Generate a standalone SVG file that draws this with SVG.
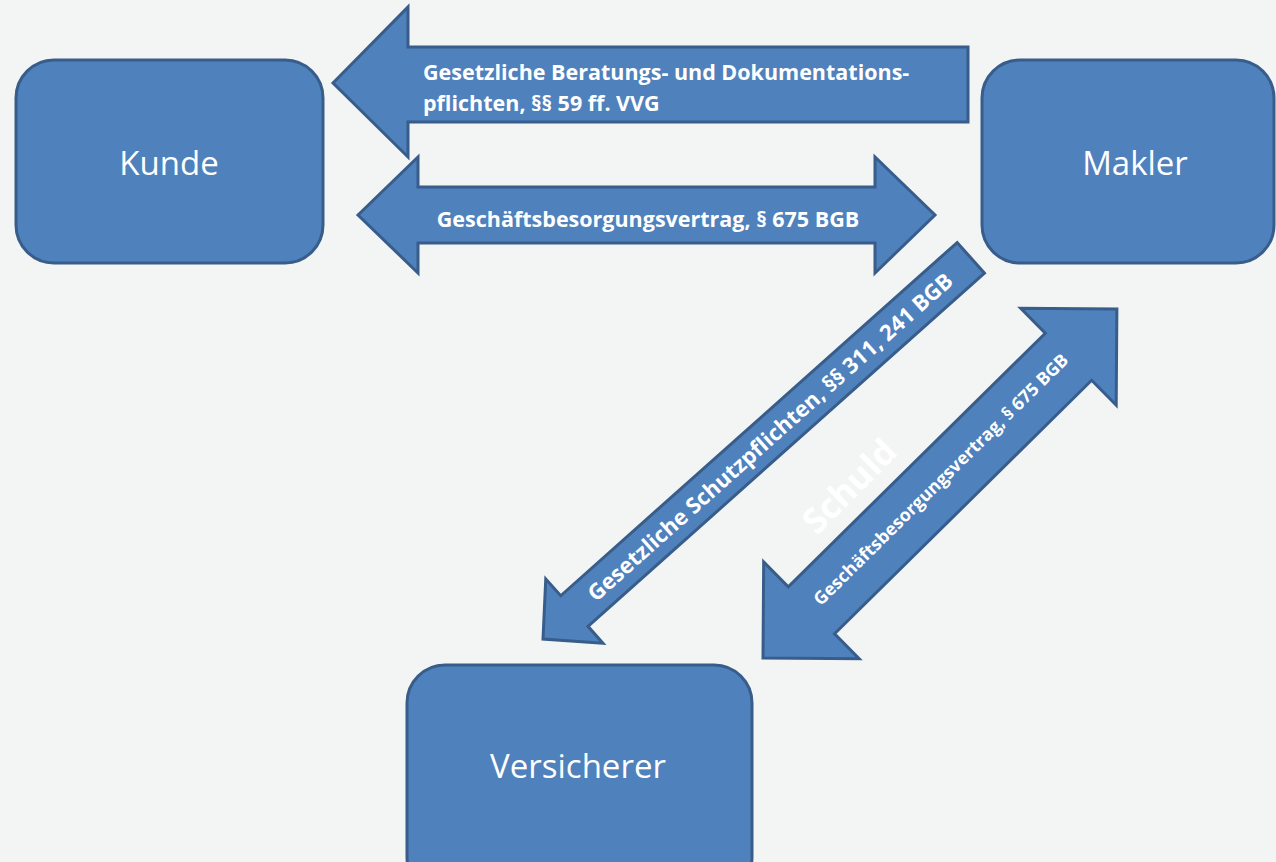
<svg xmlns="http://www.w3.org/2000/svg" width="1276" height="862" viewBox="0 0 1276 862">
<style>
.shape{fill:#4f81bd;stroke:#385d8a;stroke-width:3;stroke-linejoin:miter}
.node{font-family:"Open Sans","Noto Sans","Liberation Sans",sans-serif;font-size:33px;fill:#ffffff;text-anchor:middle}
.lbl{font-family:"Open Sans","Noto Sans","Liberation Sans",sans-serif;font-weight:bold;fill:#ffffff}
</style>
<rect x="0" y="0" width="1276" height="862" fill="#f3f5f4"/>
<g id="kunde">
<rect class="shape" x="16" y="60" width="307" height="203" rx="38" ry="38"/>
<text class="node" x="169" y="175">Kunde</text>
</g>
<g id="makler">
<rect class="shape" x="982" y="60" width="292" height="203" rx="38" ry="38"/>
<text class="node" x="1135" y="175">Makler</text>
</g>
<g id="versicherer">
<rect class="shape" x="407" y="665" width="345" height="230" rx="38" ry="38"/>
<text class="node" x="578" y="778">Versicherer</text>
</g>
<g id="connectors">
<g id="arrow-beratung">
<polygon class="shape" points="333,83 408,7 408,47 968,47 968,122 408,122 408,157"/>
<text class="lbl" font-size="21.5" x="423" y="80">Gesetzliche Beratungs- und Dokumentations-</text>
<text class="lbl" font-size="21.5" x="423" y="111">pflichten, §§ 59 ff. VVG</text>
</g>
<g id="arrow-gbv-kunde">
<polygon class="shape" points="358,215 418,157 418,187 875,187 875,157 935,215 875,273 875,243 418,243 418,273"/>
<text class="lbl" font-size="21.5" x="648" y="227" text-anchor="middle">Geschäftsbesorgungsvertrag, § 675 BGB</text>
</g>
<g id="arrow-schutz" transform="translate(543,639) rotate(-41.7)">
<polygon class="shape" points="0,0 42,-43 42,-20.5 573,-20.5 573,20.5 42,20.5 42,43"/>
<text class="lbl" font-size="22" x="304" y="8" text-anchor="middle">Gesetzliche Schutzpflichten, §§ 311, 241 BGB</text>
</g>
<text class="lbl" font-size="35" fill="#ffffff" transform="translate(817,536) rotate(-45)">Schuld</text>
<g id="arrow-gbv-versicherer" transform="translate(763,658) rotate(-44.6)">
<polygon class="shape" points="0,0 68,-68 68,-33 429,-33 429,-68 497,0 429,68 429,33 68,33 68,68"/>
<text class="lbl" font-size="17.8" x="252" y="4" text-anchor="middle">Geschäftsbesorgungsvertrag, § 675 BGB</text>
</g>
</g>
</svg>
